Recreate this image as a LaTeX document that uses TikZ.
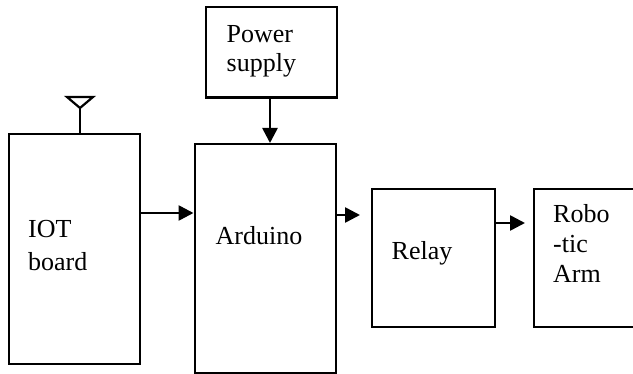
\documentclass[tikz,border=0pt]{standalone}
\usepackage{fontspec}
\setmainfont{Liberation Serif}
\usetikzlibrary{arrows.meta}
\begin{document}
\begin{tikzpicture}[x=1pt,y=-1pt,
  box/.style={draw=black,line width=2.2pt,rectangle,inner sep=0pt,anchor=north west},
  arr/.style={line width=2.6pt,-{Triangle[length=15pt,width=15pt]}},
  lbl/.style={anchor=base west,inner sep=0pt,font=\fontsize{26}{30}\selectfont}]
\useasboundingbox (0,0) rectangle (633,374);
% boxes
\node[box,minimum width=131pt,minimum height=230pt] (iot) at (8,133) {};
\node[box,minimum width=141.5pt,minimum height=229.5pt] (ard) at (193.5,143) {};
\node[box,minimum width=130.5pt,minimum height=90.5pt] (pwr) at (205,6) {};
\node[box,minimum width=123pt,minimum height=138pt] (rel) at (371,188) {};
\node[box,minimum width=200pt,minimum height=138pt] (rob) at (532.5,188) {};
% antenna
\coordinate (ant) at (80,108);
\draw[line width=2.2pt] (ant |- iot.north) -- (ant);
\draw[line width=2.2pt,line join=miter] (ant) -- (67,97) -- (93,97) -- cycle;
% labels
\node[lbl] (t1) at (226.5,42.3) {Power};
\node[lbl] (t2) at (226.5,72) {supply};
\node[lbl] (t3) at (28,237.7) {IOT};
\node[lbl] (t4) at (28,271) {board};
\node[lbl] (t5) at (215.5,245) {Arduino};
\node[lbl] (t6) at (391.5,260) {Relay};
\node[lbl] (t7) at (553,223) {Robo};
\node[lbl] (t8) at (553,253) {-tic};
\node[lbl] (t9) at (553,283) {Arm};
% arrows
\coordinate (a1) at (360,215);
\coordinate (a2) at (525,223);
\draw[arr] (pwr.south -| 270,0) -- (ard.north -| 270,0);
\draw[arr] (iot.east |- 0,213) -- (ard.west |- 0,213);
\draw[arr] (ard.east |- a1) -- (a1);
\draw[arr] (rel.east |- a2) -- (a2);
\end{tikzpicture}
\end{document}
